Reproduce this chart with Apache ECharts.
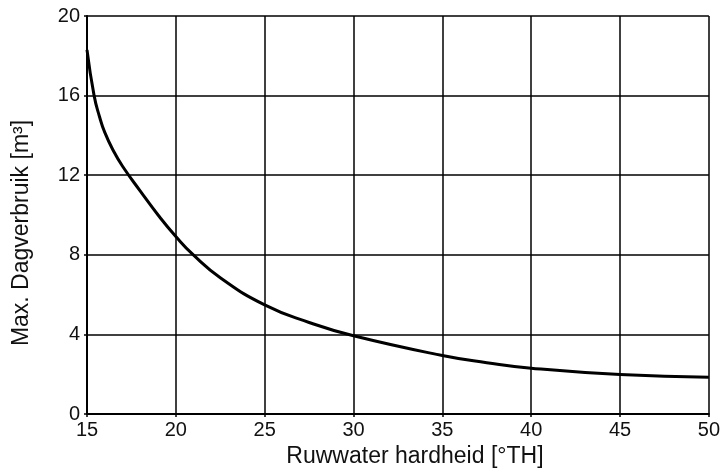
<!DOCTYPE html>
<html><head><meta charset="utf-8">
<script src="https://cdn.jsdelivr.net/npm/echarts@6/dist/echarts.min.js"></script>
<style>html,body{margin:0;padding:0;background:#fff}#c{width:723px;height:473px}</style>
</head><body><div id="c"></div>
<script>
const hardness = [15, 15.4, 15.7, 16, 16.5, 17, 18, 19, 20, 21, 22.5, 25, 27.5, 30, 35, 37.5, 40, 45, 50];
const usage =    [18.3, 16.0, 14.95, 14.15, 13.2, 12.45, 11.2, 10.0, 8.92, 7.98, 6.85, 5.48, 4.6, 3.93, 2.94, 2.58, 2.3, 1.98, 1.85];
const xTicks = [15, 20, 25, 30, 35, 40, 45, 50];
const yTicks = [0, 4, 8, 12, 16, 20];
const xTitle = 'Ruwwater hardheid [°TH]';
const yTitle = 'Max. Dagverbruik [m³]';

const chart = echarts.init(document.getElementById('c'));
const font = 'Liberation Sans, Arial, sans-serif';
chart.setOption({
  animation: false,
  grid: {left: 87, right: 13, top: 16, bottom: 55},
  xAxis: {
    type: 'value', min: xTicks[0], max: xTicks[xTicks.length-1], interval: 5,
    name: xTitle, nameLocation: 'middle', nameGap: 31,
    nameTextStyle: {fontFamily: font, fontSize: 23, color: '#111', padding: [0, 0, 0, 34]},
    axisLine: {lineStyle: {color: '#000', width: 2}},
    axisTick: {show: true, length: 3, lineStyle: {color: '#000', width: 1.5}},
    axisLabel: {fontFamily: font, fontSize: 20, color: '#111', margin: 6},
    splitLine: {show: true, lineStyle: {color: '#000', width: 1.5}}
  },
  yAxis: {
    type: 'value', min: yTicks[0], max: yTicks[yTicks.length-1], interval: 4,
    name: yTitle, nameLocation: 'middle', nameGap: 54,
    nameTextStyle: {fontFamily: font, fontSize: 23, color: '#111', padding: [0, 36, 0, 0]},
    axisLine: {show: true, lineStyle: {color: '#000', width: 2}},
    axisTick: {show: true, length: 3, lineStyle: {color: '#000', width: 1.5}},
    axisLabel: {fontFamily: font, fontSize: 20, color: '#111', margin: 7},
    splitLine: {show: true, lineStyle: {color: '#000', width: 1.5}}
  },
  series: [{
    type: 'line', smooth: 0.5, symbol: 'none',
    data: hardness.map((x, i) => [x, usage[i]]),
    lineStyle: {color: '#000', width: 3}
  }]
});
</script></body></html>
